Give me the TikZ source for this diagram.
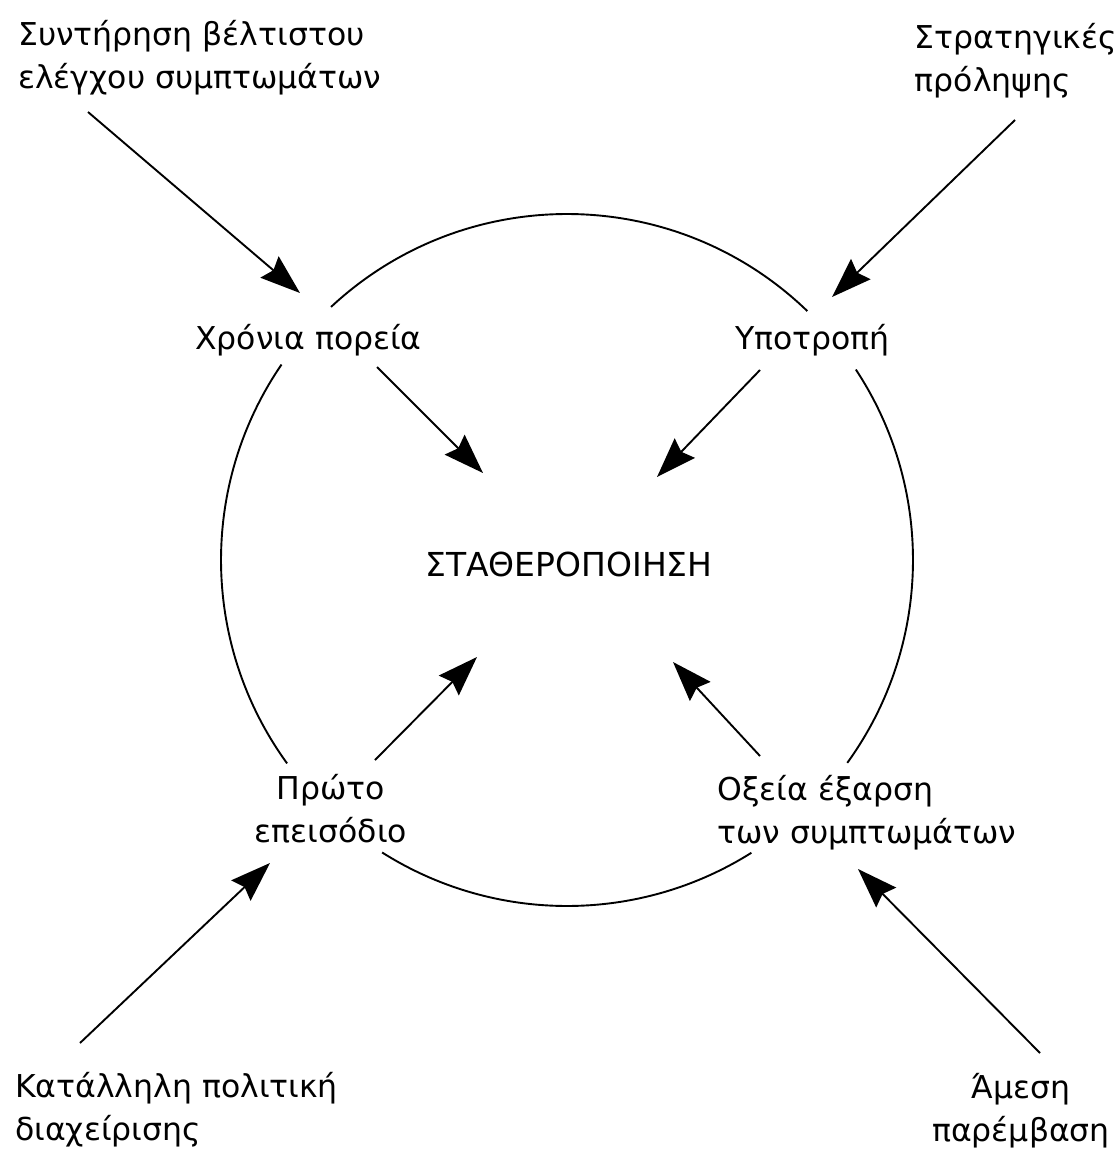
\documentclass[tikz,border=0pt]{standalone}
\usepackage{fontspec}
\setmainfont{DejaVu Sans}
\usetikzlibrary{arrows.meta}
\begin{document}
\begin{tikzpicture}[x=1pt,y=-1pt,
  lbl/.style={inner sep=0pt, font=\fontsize{31.5}{43}\selectfont},
  ring/.style={line width=1.9pt},
  push/.style={line width=1.9pt, -{Stealth[length=40pt,width=28pt,inset=5pt]}}]
\useasboundingbox[fill=white] (0,0) rectangle (1119,1167);

% centre of the cycle
\coordinate (c) at (567,560);

% the cycle, broken where the four phase labels sit
\draw[ring] (c) ++(-46:346) arc[start angle=-46, end angle=-133, radius=346];
\draw[ring] (c) ++(-145.6:346) arc[start angle=-145.6, end angle=-216, radius=346];
\draw[ring] (c) ++(-237.7:346) arc[start angle=-237.7, end angle=-302.2, radius=346];
\draw[ring] (c) ++(35.9:346) arc[start angle=35.9, end angle=-33.4, radius=346];

% labels (multi-line labels are placed by the baseline of their last line)
\node[lbl, anchor=base west, align=left] (maint) at (18,88) {Συντήρηση βέλτιστου\\ελέγχου συμπτωμάτων};
\node[lbl, anchor=base east, align=left] (prev) at (1117,91) {Στρατηγικές\\πρόληψης\hphantom{ές}};
\node[lbl, anchor=base west] (chron) at (195,349) {Χρόνια πορεία};
\node[lbl, anchor=base west] (relapse) at (735,349) {Υποτροπή};
\node[lbl, anchor=base west, font=\fontsize{33}{43}\selectfont] (stab) at (425,576) {ΣΤΑΘΕΡΟΠΟΙΗΣΗ};
\node[lbl, anchor=base, align=center] (first) at (331,842) {Πρώτο\\επεισόδιο};
\node[lbl, anchor=base west, align=left] (acute) at (717,843) {Οξεία έξαρση\\των συμπτωμάτων};
\node[lbl, anchor=base west, align=left] (policy) at (15,1140) {Κατάλληλη πολιτική\\διαχείρισης};
\node[lbl, anchor=base, align=center] (direct) at (1021,1141) {Άμεση\\παρέμβαση};

% arrow end points
\coordinate (tl-tail) at (88,112);   \coordinate (tl-tip) at (300,293);
\coordinate (cp-tail) at (377,367);  \coordinate (cp-tip) at (483,473);
\coordinate (tr-tail) at (1015,120); \coordinate (tr-tip) at (832,297);
\coordinate (yp-tail) at (760,370);  \coordinate (yp-tip) at (657,477);
\coordinate (pe-tail) at (375,760);  \coordinate (pe-tip) at (477,657);
\coordinate (bl-tail) at (80,1043);  \coordinate (bl-tip) at (270,863);
\coordinate (ox-tail) at (760,756);  \coordinate (ox-tip) at (673,662);
\coordinate (br-tail) at (1040,1053);\coordinate (br-tip) at (858,869);

% arrows
\draw[push] (tl-tail) -- (tl-tip);
\draw[push] (cp-tail) -- (cp-tip);
\draw[push] (tr-tail) -- (tr-tip);
\draw[push] (yp-tail) -- (yp-tip);
\draw[push] (pe-tail) -- (pe-tip);
\draw[push] (bl-tail) -- (bl-tip);
\draw[push] (ox-tail) -- (ox-tip);
\draw[push] (br-tail) -- (br-tip);
\end{tikzpicture}
\end{document}
